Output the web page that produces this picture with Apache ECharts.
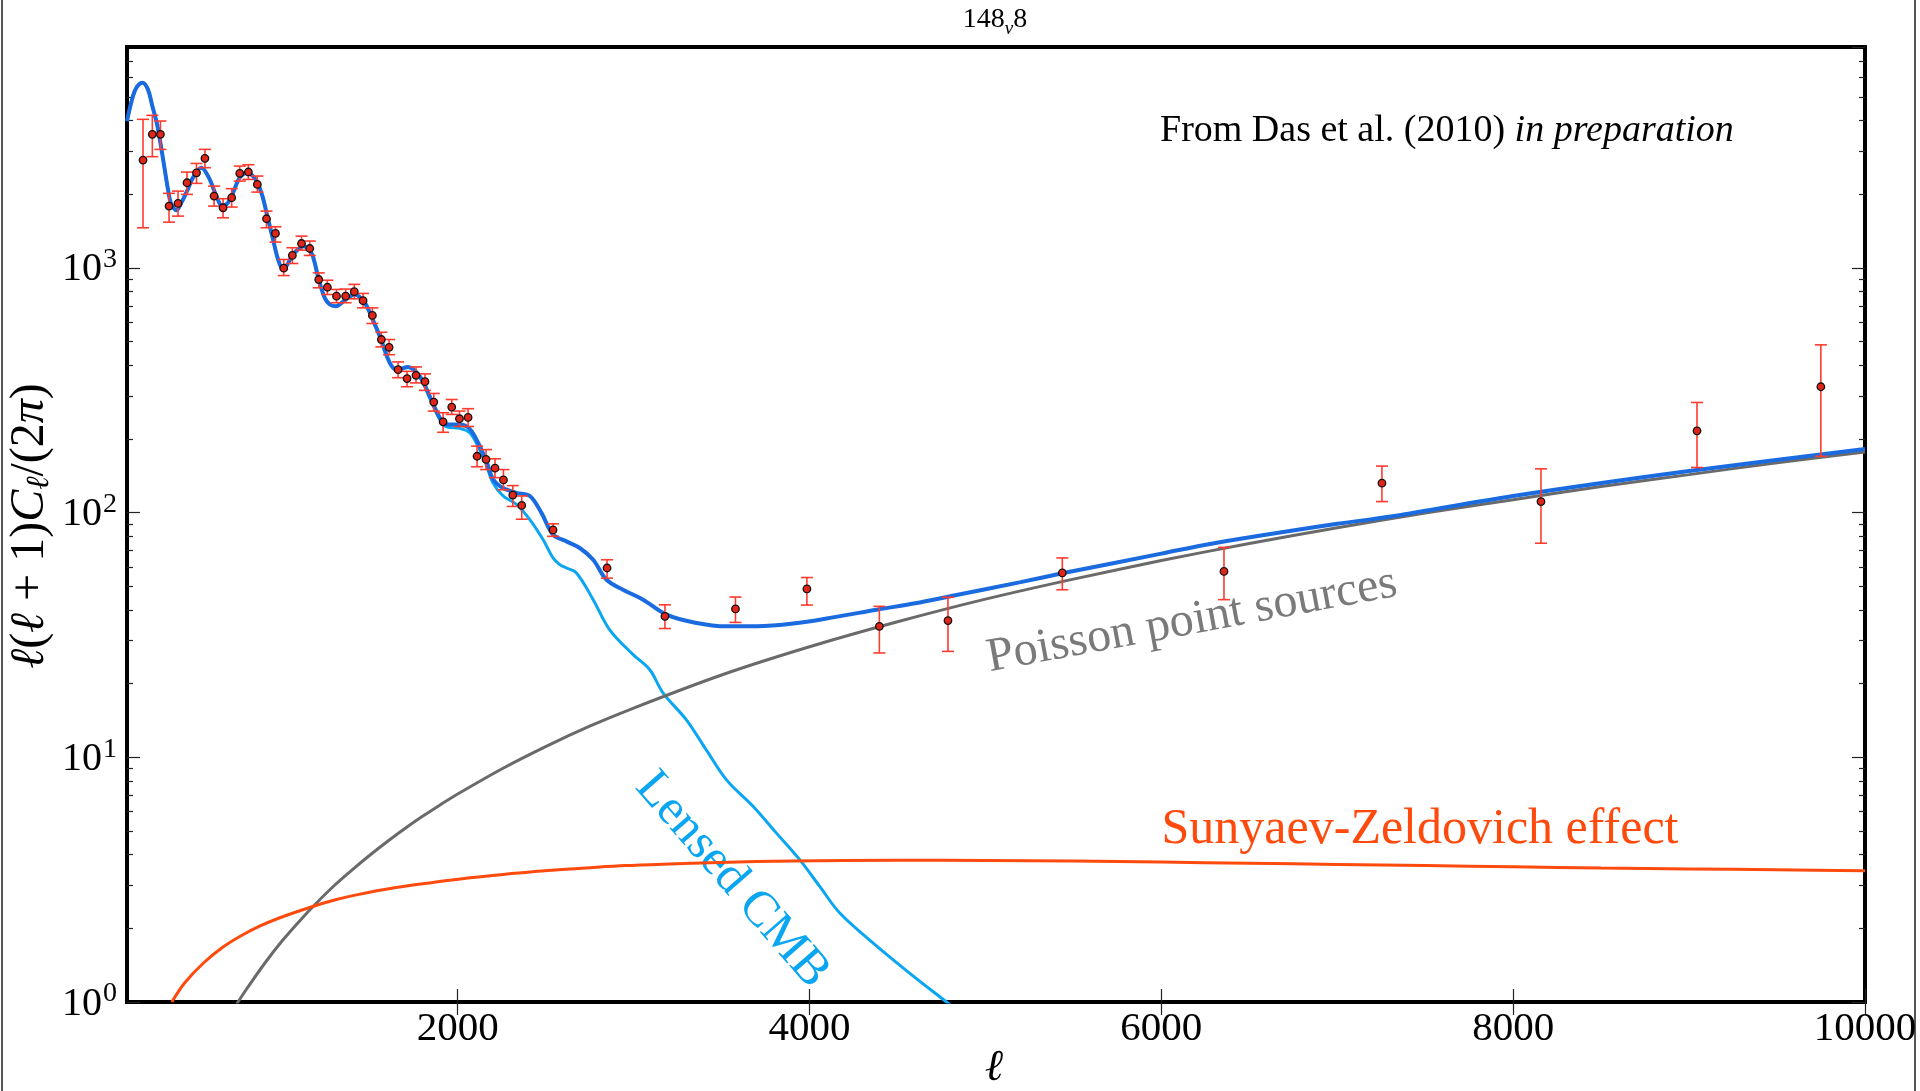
<!DOCTYPE html>
<html>
<head>
<meta charset="utf-8">
<script src="https://cdn.jsdelivr.net/npm/echarts@6/dist/echarts.min.js"></script>
<style>
html,body{margin:0;padding:0;background:#fff;}
#chart{width:1920px;height:1091px;}
</style>
</head>
<body>
<div id="chart"></div>
<script>
// ---------- data ----------
const totalL = [120,154,177,208,239,264,291,316,336,353,372,401,429,461,495,543,590,628,662,694,723,761,806,836,861,890,913,950,979,1007,1035,1060,1092,1125,1168,1187,1210,1244,1273,1307,1363,1414,1471,1517,1557,1614,1652,1718,1784,1841,1898,1936,2012,2068,2116,2163,2201,2258,2334,2410,2476,2542,2618,2694,2770,2846,2950,3054,3187,3350,3528,3700,3907,4150,4381,4600,4800,5200,5437,6000,6300,7000,7315,8000,9000,10000];
const totalV = [3985,5045,5510,5720,5370,4590,3864,3052,2489,2094,1820,1723,1849,2061,2339,2570,2302,1967,1790,1849,2030,2340,2449,2375,2230,1967,1682,1309,1083,986,1043,1125,1191,1228,1153,1050,897,755,709,698,743,779,721,615,526,409,384,394,361,299,244,229,229,220,193,162,137,126,120.5,117,99.8,81.3,76.3,71.7,64.2,53.2,48,44.1,38.3,35.5,34.3,34.3,35.2,37.5,40.1,42.6,45.5,52,56.5,68,75,90,96.6,117,148,182];

const lensedL = [120,154,177,208,239,264,291,316,336,353,372,401,429,461,495,543,590,628,662,694,723,761,806,836,861,890,913,950,979,1007,1035,1060,1092,1125,1168,1187,1210,1244,1273,1307,1363,1414,1471,1517,1557,1614,1652,1718,1784,1841,1898,1936,2012,2068,2116,2163,2201,2258,2334,2410,2485,2542,2580,2618,2675,2770,2864,2997,3092,3168,3301,3414,3528,3680,3812,3945,4059,4172,4362,4570,4779,4950];
const lensedV = [3985,5045,5510,5720,5370,4590,3864,3052,2489,2094,1820,1723,1849,2061,2339,2570,2302,1967,1790,1849,2030,2340,2449,2375,2230,1967,1682,1309,1083,986,1043,1125,1191,1228,1153,1050,897,755,709,698,743,779,721,615,526,409,384,392,358,294,240,224,221,212,186,156,132,117,108,93.6,77.6,65.3,61.3,59.4,56.7,44.1,33.2,26.3,22.8,18.3,14.2,10.7,8.09,6.29,4.90,3.81,2.96,2.31,1.74,1.31,1.0,0.8];

const poissonL = [743,800,900,1000,1100,1200,1300,1400,1500,1600,1700,1800,1900,2000,2250,2500,2750,3000,3500,4000,4500,5000,5500,6000,6500,7000,7500,8000,8500,9000,9500,10000];
const poissonV = [0.98,1.13,1.43,1.77,2.14,2.55,3.0,3.47,3.98,4.53,5.12,5.74,6.39,7.08,8.96,11.06,13.4,15.9,21.7,28.3,35.8,44.3,53.5,63.7,74.8,86.7,99.6,113,128,143,160,177];

const szL = [375,445,553,662,771,880,989,1163,1300,1424,1640,1859,2070,2294,2510,2729,2950,3165,3491,3900,4500,5000,5500,6000,6500,7000,7500,8000,8500,9000,9500,10000];
const szV = [1.0,1.19,1.44,1.67,1.87,2.05,2.21,2.44,2.61,2.74,2.93,3.08,3.22,3.34,3.45,3.53,3.61,3.66,3.72,3.77,3.80,3.79,3.77,3.73,3.69,3.65,3.61,3.57,3.53,3.50,3.47,3.44];

const dataL  = [211,264,310,359,410,461,515,563,615,666,715,761,810,861,913,964,1011,1060,1112,1159,1210,1259,1311,1363,1412,1462,1515,1566,1610,1661,1712,1763,1814,1864,1917,1966,2010,2059,2110,2161,2212,2260,2313,2364,2542,2849,3178,3579,3985,4397,4787,5437,6356,7254,8158,9045,9749];
const dataV  = [2760,3516,3516,1790,1836,2230,2449,2805,1967,1762,1938,2436,2467,2195,1589,1384,998,1125,1259,1201,897,834,767,767,800,735,640,510,474,384,353,364,343,283,235,270,242,245,170,165,152,136,118,107,85,59.4,37.7,40.4,48.8,34.3,36.2,56.7,57.5,132,111,216,327];
const dataLo = [1460,2850,3052,1539,1629,1999,2217,2569,1790,1604,1774,2265,2301,2042,1460,1276,931,1043,1183,1125,830,779,721,721,748,687,593,476,442,356,327,339,316,260,213,252,225,225,154,150,139,124,106,94,80,54,33.6,35.6,41.9,26.7,27.1,48.4,44.1,111,75,153,170];
const dataHi = [4050,4205,3985,2018,2061,2465,2674,3053,2161,1919,2109,2608,2642,2375,1708,1474,1083,1210,1349,1288,955,891,817,820,857,787,687,546,510,413,378,394,369,307,256,290,260,266,187,181,166,150,129,117,90,64.2,42.0,45.2,54.3,41.4,45.1,65.3,72.1,155,151,282,485];

const xTickVals = [2000,4000,6000,8000,10000];
const yMajorTicks = [1,10,100,1000];
const yMinorTicks = [2,3,4,5,6,7,8,9,20,30,40,50,60,70,80,90,200,300,400,500,600,700,800,900,2000,3000,4000,5000,6000,7000];

const X_MIN = 120, X_MAX = 10000, Y_MIN = 1, Y_MAX = 8000;

// ---------- build ----------
const zip = (a, b) => a.map((v, i) => [v, b[i]]);
const FONT = "'Liberation Serif', 'DejaVu Serif', serif";
const minorLog = yMinorTicks.map(v => Math.log10(v));

const chart = echarts.init(document.getElementById('chart'), null, {renderer: 'canvas'});

const tickStyle = {color: '#222', width: 1.2};

const option = {
  backgroundColor: '#ffffff',
  animation: false,
  grid: {left: 127, right: 55, top: 47, bottom: 89, show: true, borderColor: '#000', borderWidth: 4, backgroundColor: 'transparent'},
  xAxis: [
    {type: 'value', min: X_MIN, max: X_MAX, position: 'bottom',
     axisLine: {show: false}, splitLine: {show: false},
     axisTick: {show: true, inside: true, length: 13, customValues: xTickVals, lineStyle: tickStyle},
     axisLabel: {customValues: xTickVals, formatter: v => String(v), fontFamily: FONT, fontSize: 41, color: '#000', margin: 7}},
    {type: 'value', min: X_MIN, max: X_MAX, position: 'top',
     axisLine: {show: false}, splitLine: {show: false},
     axisTick: {show: true, inside: true, length: 13, customValues: xTickVals, lineStyle: tickStyle},
     axisLabel: {show: false}}
  ],
  yAxis: [
    {type: 'log', logBase: 10, min: Y_MIN, max: Y_MAX, position: 'left',
     axisLine: {show: false}, splitLine: {show: false}, minorTick: {show: false},
     axisTick: {show: true, inside: true, length: 13, lineStyle: tickStyle},
     axisLabel: {
       showMaxLabel: false, margin: 10, color: '#000',
       formatter: function (v) {
         const e = Math.log10(v), r = Math.round(e);
         if (Math.abs(e - r) > 1e-6 || yMajorTicks.indexOf(Math.pow(10, r)) < 0) return '';
         return '{b|10}{s|' + r + '}';
       },
       rich: {
         b: {fontFamily: FONT, fontSize: 40, color: '#000', lineHeight: 44, verticalAlign: 'bottom'},
         s: {fontFamily: FONT, fontSize: 28, color: '#000', lineHeight: 44, verticalAlign: 'top', padding: [0, 0, 14, 1]}
       }
     }},
    {type: 'log', logBase: 10, min: Y_MIN, max: Y_MAX, position: 'right',
     axisLine: {show: false}, splitLine: {show: false}, minorTick: {show: false},
     axisTick: {show: true, inside: true, length: 13, lineStyle: tickStyle},
     axisLabel: {show: false}},
    {type: 'value', min: 0, max: Math.log10(Y_MAX), position: 'left', offset: 0,
     axisLine: {show: false}, splitLine: {show: false},
     axisTick: {show: true, inside: true, length: 6, customValues: minorLog, lineStyle: tickStyle},
     axisLabel: {show: false}},
    {type: 'value', min: 0, max: Math.log10(Y_MAX), position: 'right', offset: 0,
     axisLine: {show: false}, splitLine: {show: false},
     axisTick: {show: true, inside: true, length: 6, customValues: minorLog, lineStyle: tickStyle},
     axisLabel: {show: false}}
  ],
  series: [
    {name: 'Lensed CMB', type: 'line', data: zip(lensedL, lensedV), xAxisIndex: 0, yAxisIndex: 0,
     showSymbol: false, smooth: 0.35, lineStyle: {color: '#0aa6f2', width: 3}, z: 2},
    {name: 'Poisson point sources', type: 'line', data: zip(poissonL, poissonV), xAxisIndex: 0, yAxisIndex: 0,
     showSymbol: false, smooth: 0.3, lineStyle: {color: '#6a6a6a', width: 3}, z: 2},
    {name: 'Sunyaev-Zeldovich effect', type: 'line', data: zip(szL, szV), xAxisIndex: 0, yAxisIndex: 0,
     showSymbol: false, smooth: 0.3, lineStyle: {color: '#ff4a0e', width: 3}, z: 2},
    {name: 'Total', type: 'line', data: zip(totalL, totalV), xAxisIndex: 0, yAxisIndex: 0,
     showSymbol: false, smooth: 0.35, lineStyle: {color: '#1a6ae0', width: 4}, z: 3},
    {name: 'Errors', type: 'custom', xAxisIndex: 0, yAxisIndex: 0, z: 4,
     data: dataL.map((l, i) => [l, dataLo[i], dataHi[i]]),
     encode: {x: 0, y: [1, 2]},
     renderItem: function (params, api) {
       const x = api.value(0);
       const a = api.coord([x, api.value(1)]);
       const b = api.coord([x, api.value(2)]);
       const w = 6;
       const st = {stroke: '#ff3b2f', lineWidth: 1.6};
       return {type: 'group', children: [
         {type: 'line', shape: {x1: a[0], y1: a[1], x2: b[0], y2: b[1]}, style: st},
         {type: 'line', shape: {x1: a[0] - w, y1: a[1], x2: a[0] + w, y2: a[1]}, style: st},
         {type: 'line', shape: {x1: b[0] - w, y1: b[1], x2: b[0] + w, y2: b[1]}, style: st}
       ]};
     }},
    {name: 'Data', type: 'scatter', data: zip(dataL, dataV), xAxisIndex: 0, yAxisIndex: 0, z: 5,
     symbol: 'circle', symbolSize: 7.5,
     itemStyle: {color: '#e0261b', borderColor: '#111', borderWidth: 1.3, opacity: 1}}
  ],
  graphic: [
    {type: 'line', shape: {x1: 2, y1: 0, x2: 2, y2: 1091}, style: {stroke: '#555', lineWidth: 2}, silent: true},
    {type: 'line', shape: {x1: 1915, y1: 0, x2: 1915, y2: 1091}, style: {stroke: '#555', lineWidth: 2}, silent: true},
    {type: 'text', x: 995, y: 22, silent: true,
     style: {text: '{a|148}{s|v}{a|8}', align: 'center', verticalAlign: 'middle', textAlign: 'center', textVerticalAlign: 'middle',
       rich: {a: {fontFamily: FONT, fontSize: 28, fill: '#000', lineHeight: 32, verticalAlign: 'top'},
              s: {fontFamily: FONT, fontSize: 19, fontStyle: 'italic', fill: '#000', lineHeight: 32, verticalAlign: 'bottom', padding: [7, 0, 0, 0]}}}},
    {type: 'text', x: 1160, y: 131, silent: true,
     style: {text: '{r|From Das et al. (2010) }{i|in preparation}', align: 'left', verticalAlign: 'middle', textAlign: 'left', textVerticalAlign: 'middle',
       rich: {r: {fontFamily: FONT, fontSize: 38, fill: '#000'},
              i: {fontFamily: FONT, fontSize: 38, fontStyle: 'italic', fill: '#000'}}}},
    {type: 'text', x: 1192, y: 621, rotation: 10.5 * Math.PI / 180, silent: true,
     style: {text: 'Poisson point sources', fontFamily: FONT, fontSize: 48, fill: '#7a7a7a', align: 'center', verticalAlign: 'middle', textAlign: 'center', textVerticalAlign: 'middle'}},
    {type: 'text', x: 732, y: 880, rotation: -49 * Math.PI / 180, silent: true,
     style: {text: 'Lensed CMB', fontFamily: FONT, fontSize: 50, fill: '#0aa6f2', align: 'center', verticalAlign: 'middle', textAlign: 'center', textVerticalAlign: 'middle'}},
    {type: 'text', x: 1420, y: 830, silent: true,
     style: {text: 'Sunyaev-Zeldovich effect', fontFamily: FONT, fontSize: 50, fill: '#ff4a0e', align: 'center', verticalAlign: 'middle', textAlign: 'center', textVerticalAlign: 'middle'}},
    {type: 'text', x: 994, y: 1068, silent: true,
     style: {text: 'ℓ', fontFamily: FONT, fontSize: 44, fontStyle: 'italic', fill: '#000', align: 'center', verticalAlign: 'middle', textAlign: 'center', textVerticalAlign: 'middle'}},
    {type: 'text', x: 30, y: 526, rotation: Math.PI / 2, silent: true,
     style: {text: '{i|ℓ}{r|(}{i|ℓ}{r| + 1)}{i|C}{sub|ℓ}{r|/(2}{i|π}{r|)}', align: 'center', verticalAlign: 'middle', textAlign: 'center', textVerticalAlign: 'middle',
       rich: {i: {fontFamily: FONT, fontSize: 48, fontStyle: 'italic', fill: '#000', lineHeight: 52, verticalAlign: 'middle'},
              r: {fontFamily: FONT, fontSize: 48, fill: '#000', lineHeight: 52, verticalAlign: 'middle'},
              sub: {fontFamily: FONT, fontSize: 32, fontStyle: 'italic', fill: '#000', lineHeight: 52, verticalAlign: 'bottom'}}}}
  ]
};
chart.setOption(option);
</script>
</body>
</html>
